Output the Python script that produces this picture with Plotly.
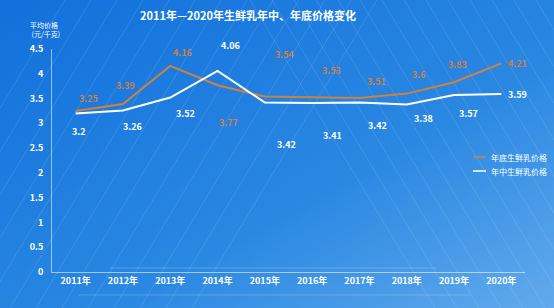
import plotly.graph_objects as go
from urllib.parse import quote

years = ["2011年", "2012年", "2013年", "2014年", "2015年", "2016年", "2017年", "2018年", "2019年", "2020年"]
year_end = [3.25, 3.39, 4.16, 3.77, 3.54, 3.53, 3.51, 3.6, 3.83, 4.21]
mid_year = [3.2, 3.26, 3.52, 4.06, 3.42, 3.41, 3.42, 3.38, 3.57, 3.59]
series_names = ["年底生鲜乳价格", "年中生鲜乳价格"]
title_text = "2011年—2020年生鲜乳年中、年底价格变化"
y_title = "平均价格<br> (元/千克)"

# label offsets (pixels) as placed in the original chart
end_dx = [13, 3, 12, 11, 20, 19, 17, 12, 3, 16]
end_dy = [12, 19, 13, -37, 42, 27, 17, 19, 18, 0]
mid_dx = [3, 10, 15, 13, 22, 20, 18, 17, 14, 16]
mid_dy = [-18, -16, -16, 25, -42, -32, -23, -14, -18, 0]

W, H = 554, 308
ML, MR, MT, MB = 52, 29, 49, 36
PW, PH = W - ML - MR, H - MT - MB

ORANGE = "#d0803f"
WHITE = "#ffffff"
FONT = "Noto Sans CJK SC"
colors = [ORANGE, WHITE]


def px_x(p):
    return (p - ML) / PW


def px_y(p):
    return 1 - (p - MT) / PH


# decorative background (gradient + faint diagonal lines)
lines = []
for xb in range(-120, 200, 26):
    lines.append(f"<line x1='{xb}' y1='308' x2='{xb+185}' y2='0'/>")
for xt in range(250, 600, 22):
    lines.append(f"<line x1='{xt}' y1='0' x2='{xt+185}' y2='308'/>")
svg = (
    f"<svg xmlns='http://www.w3.org/2000/svg' width='{W}' height='{H}' viewBox='0 0 {W} {H}'>"
    "<defs><linearGradient id='g' x1='0' y1='0' x2='1' y2='1'>"
    "<stop offset='0' stop-color='#1170dc'/><stop offset='0.6' stop-color='#2a88e2'/>"
    "<stop offset='1' stop-color='#62aaec'/></linearGradient></defs>"
    f"<rect width='{W}' height='{H}' fill='url(#g)'/>"
    "<g stroke='white' stroke-opacity='0.12' stroke-width='1'>" + "".join(lines) + "</g>"
    "<g stroke='white' stroke-opacity='0.2' stroke-width='1'>"
    "<line x1='110' y1='268' x2='437' y2='268'/><line x1='78' y1='295' x2='470' y2='295'/></g>"
    "</svg>"
)
bg_src = "data:image/svg+xml;charset=utf-8," + quote(svg)

fig = go.Figure()
fig.add_trace(go.Scatter(x=years, y=year_end, mode="lines", name=series_names[0],
                         line=dict(color=ORANGE, width=2), showlegend=False))
fig.add_trace(go.Scatter(x=years, y=mid_year, mode="lines", name=series_names[1],
                         line=dict(color=WHITE, width=2), showlegend=False))

annotations = []
for i, yr in enumerate(years):
    annotations.append(dict(x=yr, y=year_end[i], xref="x", yref="y", text=f"<b>{year_end[i]:g}</b>",
                            showarrow=False, xshift=end_dx[i], yshift=end_dy[i],
                            font=dict(family=FONT, size=9, color=ORANGE)))
    annotations.append(dict(x=yr, y=mid_year[i], xref="x", yref="y", text=f"<b>{mid_year[i]:g}</b>",
                            showarrow=False, xshift=mid_dx[i], yshift=mid_dy[i],
                            font=dict(family=FONT, size=9, color=WHITE)))
annotations.append(dict(x=px_x(248), y=px_y(15), xref="paper", yref="paper",
                        text=f"<b>{title_text}</b>", showarrow=False, xanchor="center", yanchor="middle",
                        font=dict(family=FONT, size=11, color=WHITE)))
annotations.append(dict(x=px_x(28), y=px_y(18), xref="paper", yref="paper",
                        text=y_title, showarrow=False, xanchor="left", yanchor="top", align="left",
                        font=dict(family=FONT, size=7, color=WHITE)))

# custom compact legend
shapes = []
for k, (name, col) in enumerate(zip(series_names, colors)):
    yy = 157 + 14 * k
    shapes.append(dict(type="line", xref="paper", yref="paper",
                       x0=px_x(473), x1=px_x(486), y0=px_y(yy), y1=px_y(yy),
                       line=dict(color=col, width=1.5)))
    annotations.append(dict(x=px_x(489), y=px_y(yy), xref="paper", yref="paper", text=name,
                            showarrow=False, xanchor="left", yanchor="middle",
                            font=dict(family=FONT, size=8, color=WHITE)))

fig.update_layout(
    width=W, height=H,
    margin=dict(l=ML, r=MR, t=MT, b=MB),
    paper_bgcolor="#1a7ee0",
    plot_bgcolor="rgba(0,0,0,0)",
    font=dict(family=FONT, color=WHITE),
    showlegend=False,
    annotations=annotations,
    shapes=shapes,
    images=[dict(source=bg_src, xref="paper", yref="paper",
                 x=-ML / PW, y=1 + MT / PH, sizex=W / PW, sizey=H / PH,
                 xanchor="left", yanchor="top", sizing="stretch", layer="below")],
    xaxis=dict(type="category", range=[-0.5, 9.5], showgrid=False, zeroline=False,
               showline=True, linecolor="rgba(255,255,255,0.55)", linewidth=1,
               ticks="", tickfont=dict(family=FONT, size=9, color=WHITE, weight="bold")),
    yaxis=dict(range=[0, 4.5], dtick=0.5, showgrid=False, zeroline=False,
               showline=True, linecolor="rgba(255,255,255,0.55)", linewidth=1,
               ticks="", ticklabelstandoff=6,
               tickfont=dict(family=FONT, size=9, color=WHITE, weight="bold")),
)

fig.write_html("out.html")
